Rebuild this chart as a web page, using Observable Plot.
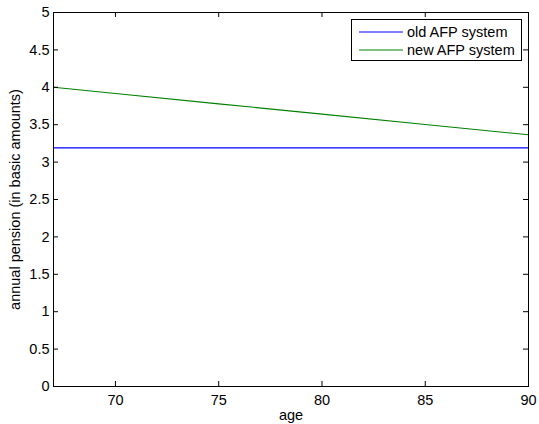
<!DOCTYPE html>
<html>
<head>
<meta charset="utf-8">
<script src="https://cdn.jsdelivr.net/npm/d3@7"></script>
<script src="https://cdn.jsdelivr.net/npm/@observablehq/plot@0.6"></script>
<style>
  html, body { margin: 0; padding: 0; background: #fff; }
  #wrap { position: relative; width: 539px; height: 424px; font-family: "Liberation Sans", Arial, sans-serif; }
  #legend { position: absolute; left: 351px; top: 19px; width: 169px; height: 40px; border: 1px solid #000; background: #fff; font-size: 14.5px; }
  .row { position: absolute; left: 0; height: 18px; display: flex; align-items: center; }
  .row svg { margin-left: 7px; margin-right: 4px; }
</style>
</head>
<body>
<div id="wrap"></div>
<script>
// Data
const ages = [67, 70, 75, 80, 85, 90];
const oldAFP = [3.19, 3.19, 3.19, 3.19, 3.19, 3.19];
const newAFP = [4.00, 3.917, 3.779, 3.641, 3.503, 3.365];
const seriesNames = ["old AFP system", "new AFP system"];
const seriesColors = ["#0000ff", "#008000"];
const xTicks = [70, 75, 80, 85, 90];
const yTicks = [0, 0.5, 1, 1.5, 2, 2.5, 3, 3.5, 4, 4.5, 5];
const yTickLabels = ["0", "0.5", "1", "1.5", "2", "2.5", "3", "3.5", "4", "4.5", "5"];

const rows = [];
ages.forEach((a, i) => {
  rows.push({age: a, value: oldAFP[i], series: seriesNames[0]});
  rows.push({age: a, value: newAFP[i], series: seriesNames[1]});
});

const W = 539, H = 424;
const mL = 53, mR = 11, mT = 12, mB = 38;
const fw = W - mL - mR, fh = H - mT - mB;
const tk = 5;

const chart = Plot.plot({
  width: W, height: H,
  marginLeft: mL, marginRight: mR, marginTop: mT, marginBottom: mB,
  style: {fontFamily: "Liberation Sans, Arial, sans-serif", fontSize: "14.5px", color: "#000", background: "#fff"},
  x: {domain: [67, 90]},
  y: {domain: [0, 5]},
  color: {domain: seriesNames, range: seriesColors},
  marks: [
    Plot.line(rows, {x: "age", y: "value", z: "series", stroke: "series", strokeWidth: 1.1}),
    Plot.tickY(yTicks, {y: d => d, insetRight: fw - tk, stroke: "#000"}),
    Plot.tickY(yTicks, {y: d => d, insetLeft: fw - tk, stroke: "#000"}),
    Plot.tickX(xTicks, {x: d => d, insetTop: fh - tk, stroke: "#000"}),
    Plot.tickX(xTicks, {x: d => d, insetBottom: fh - tk, stroke: "#000"}),
    Plot.frame({stroke: "#000"}),
    Plot.axisX({ticks: xTicks, tickSize: 0, tickPadding: 8, label: "age", labelAnchor: "center", labelArrow: "none", labelOffset: 33}),
    Plot.axisY({ticks: yTicks, tickSize: 0, tickPadding: 4, tickFormat: (d) => yTickLabels[yTicks.indexOf(d)], label: "annual pension (in basic amounts)", labelAnchor: "center", labelArrow: "none", labelOffset: 44})
  ]
});

const wrap = document.getElementById("wrap");
wrap.appendChild(chart);

const legend = document.createElement("div");
legend.id = "legend";
seriesNames.forEach((name, i) => {
  const r = document.createElement("div");
  r.className = "row";
  r.style.top = (3 + i * 18) + "px";
  r.innerHTML = `<svg width="44" height="4"><line x1="0" x2="44" y1="2" y2="2" stroke="${seriesColors[i]}" stroke-width="1"/></svg><span>${name}</span>`;
  legend.appendChild(r);
});
wrap.appendChild(legend);
</script>
</body>
</html>
